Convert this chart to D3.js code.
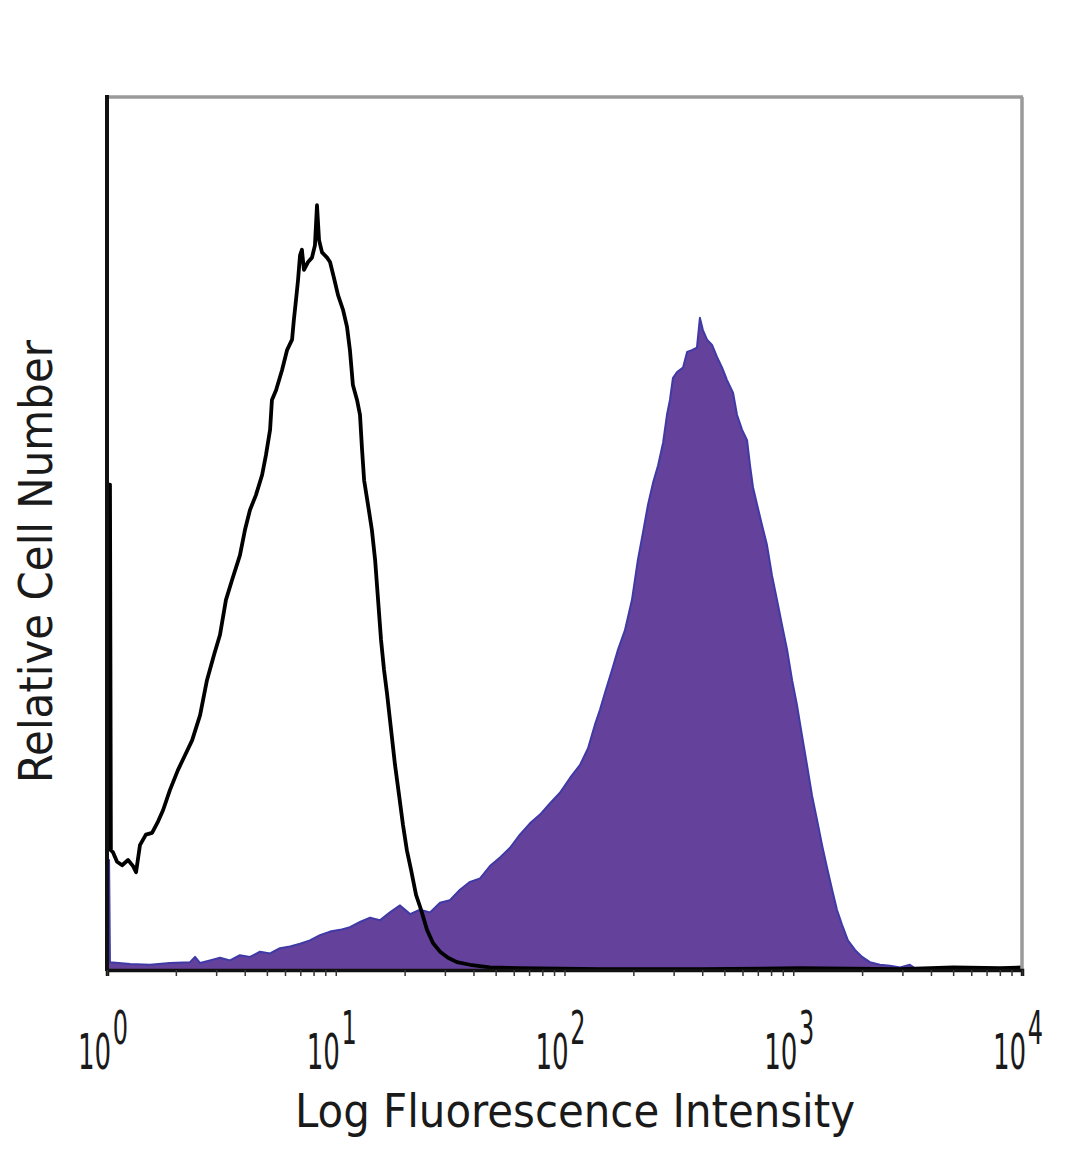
<!DOCTYPE html>
<html>
<head>
<meta charset="utf-8">
<script src="https://cdn.jsdelivr.net/npm/d3@7/dist/d3.min.js"></script>
<style>
  html, body { margin: 0; padding: 0; background: #fff; }
  svg { display: block; }
  text { font-family: "DejaVu Sans Condensed", "DejaVu Sans", sans-serif; font-stretch: condensed; fill: #1a1a1a; }
</style>
</head>
<body>
<svg id="chart" width="1080" height="1169"></svg>
<script>
// ---- Data (log10 fluorescence intensity, relative cell number %) ----
const isotypeLog = [0, 0, 0.013, 0.017, 0.026, 0.044, 0.066, 0.092, 0.114, 0.127, 0.144, 0.170, 0.197, 0.223, 0.245, 0.275, 0.310, 0.341, 0.372, 0.407, 0.437, 0.468, 0.494, 0.520, 0.547, 0.581, 0.603, 0.625, 0.651, 0.678, 0.695, 0.713, 0.721, 0.739, 0.765, 0.787, 0.809, 0.817, 0.826, 0.835, 0.844, 0.852, 0.861, 0.879, 0.896, 0.909, 0.918, 0.927, 0.940, 0.962, 0.975, 0.992, 1.010, 1.032, 1.049, 1.062, 1.075, 1.093, 1.106, 1.115, 1.124, 1.141, 1.158, 1.172, 1.185, 1.198, 1.211, 1.224, 1.242, 1.259, 1.277, 1.294, 1.311, 1.329, 1.351, 1.373, 1.399, 1.425, 1.456, 1.491, 1.530, 1.587, 1.674, 1.805, 2.155, 2.592, 3.029, 3.467, 3.700, 3.904, 4.0];
const isotypeCount = [0, 55.6, 55.6, 13.7, 13.5, 12.4, 12.0, 12.6, 11.9, 11.2, 14.3, 15.5, 15.7, 17.0, 18.3, 20.6, 22.9, 24.6, 26.3, 29.2, 33.2, 36.1, 38.4, 42.4, 44.7, 47.5, 50.4, 52.7, 54.4, 56.7, 59.0, 61.9, 65.3, 66.4, 68.7, 71.0, 72.2, 74.5, 76.7, 79.0, 81.9, 82.5, 80.2, 81.1, 81.6, 83.0, 87.6, 83.6, 82.2, 81.6, 81.1, 79.3, 77.3, 75.6, 73.7, 71.0, 67.0, 65.3, 63.6, 59.6, 56.1, 53.3, 50.4, 47.0, 42.4, 37.8, 34.4, 31.7, 27.5, 23.5, 20.0, 16.6, 13.7, 11.5, 8.6, 6.9, 4.6, 3.1, 2.1, 1.4, 0.9, 0.6, 0.3, 0.2, 0.1, 0.1, 0.2, 0.1, 0.3, 0.2, 0.3];

const stainedLog = [0, 0, 0.009, 0.013, 0.101, 0.188, 0.275, 0.363, 0.385, 0.407, 0.450, 0.494, 0.538, 0.581, 0.625, 0.669, 0.713, 0.756, 0.800, 0.844, 0.887, 0.931, 0.975, 1.019, 1.062, 1.106, 1.150, 1.193, 1.237, 1.281, 1.325, 1.368, 1.412, 1.456, 1.499, 1.543, 1.587, 1.631, 1.674, 1.718, 1.762, 1.805, 1.849, 1.893, 1.937, 1.980, 2.024, 2.068, 2.103, 2.133, 2.155, 2.181, 2.208, 2.234, 2.264, 2.295, 2.321, 2.343, 2.365, 2.387, 2.409, 2.431, 2.448, 2.461, 2.474, 2.492, 2.518, 2.536, 2.557, 2.579, 2.592, 2.605, 2.623, 2.645, 2.667, 2.689, 2.710, 2.737, 2.754, 2.776, 2.798, 2.811, 2.824, 2.842, 2.863, 2.885, 2.907, 2.929, 2.951, 2.973, 2.995, 3.016, 3.038, 3.060, 3.082, 3.104, 3.126, 3.148, 3.170, 3.191, 3.213, 3.239, 3.270, 3.301, 3.335, 3.379, 3.423, 3.467, 3.510, 3.532, 3.598, 4.0, 4.0];
const stainedCount = [0, 12.6, 12.6, 0.9, 0.7, 0.6, 0.8, 0.9, 1.5, 0.8, 1.1, 1.4, 1.1, 1.7, 1.5, 2.1, 1.9, 2.5, 2.7, 3.0, 3.4, 4.0, 4.4, 4.6, 4.9, 5.5, 6.0, 5.7, 6.6, 7.4, 6.4, 6.9, 6.6, 7.7, 8.0, 9.2, 10.1, 10.5, 11.9, 12.9, 14.0, 15.5, 16.8, 17.8, 19.1, 20.3, 22.0, 23.5, 25.4, 28.1, 29.8, 32.1, 34.4, 36.7, 38.9, 42.4, 47.0, 50.1, 53.3, 55.8, 57.8, 60.4, 63.6, 65.3, 67.8, 68.5, 69.0, 70.8, 71.0, 71.3, 74.7, 73.3, 72.2, 71.6, 70.2, 69.0, 67.6, 66.1, 63.6, 61.9, 60.7, 57.8, 55.3, 53.3, 51.0, 48.7, 45.2, 42.4, 39.5, 36.7, 33.2, 30.4, 26.9, 23.5, 20.0, 17.2, 14.3, 11.7, 9.2, 6.9, 5.2, 3.4, 2.3, 1.5, 0.9, 0.6, 0.5, 0.3, 0.6, 0.2, 0.1, 0.1, 0];

const decadeTicks = [1, 10, 100, 1000, 10000];
const tickExponents = ["0", "1", "2", "3", "4"];
const xTitle = "Log Fluorescence Intensity";
const yTitle = "Relative Cell Number";

// ---- Layout ----
const svg = d3.select("#chart");
const mLeft = 107, mRight = 1022, mTop = 97, mBottom = 970;

const x = d3.scaleLog().domain([1, 10000]).range([mLeft, mRight]);
const y = d3.scaleLinear().domain([0, 100]).range([mBottom, mTop]);

const stained = stainedLog.map((d, i) => ({ v: Math.pow(10, d), c: stainedCount[i] }));
const isotype = isotypeLog.map((d, i) => ({ v: Math.pow(10, d), c: isotypeCount[i] }));

// filled histogram
const area = d3.area().x(d => x(d.v)).y0(y(0)).y1(d => y(d.c));
svg.append("path")
  .datum(stained)
  .attr("d", area)
  .attr("fill", "#64419b")
  .attr("stroke", "#3f3aa6")
  .attr("stroke-width", 2)
  .attr("stroke-linejoin", "round");

// isotype outline
const line = d3.line().x(d => x(d.v)).y(d => y(d.c));
svg.append("path")
  .datum(isotype)
  .attr("d", line)
  .attr("fill", "none")
  .attr("stroke", "#000")
  .attr("stroke-width", 3.8)
  .attr("stroke-linejoin", "round");

// frame: top/right grey
svg.append("line").attr("x1", mLeft).attr("x2", mRight + 1).attr("y1", mTop).attr("y2", mTop)
  .attr("stroke", "#9a9a9a").attr("stroke-width", 3.5);
svg.append("line").attr("x1", mRight).attr("x2", mRight).attr("y1", mTop).attr("y2", mBottom)
  .attr("stroke", "#9a9a9a").attr("stroke-width", 3.5);
// left axis black
svg.append("line").attr("x1", mLeft).attr("x2", mLeft).attr("y1", mTop - 2).attr("y2", mBottom + 1)
  .attr("stroke", "#111").attr("stroke-width", 4);

// bottom axis with minor ticks
const minorTicks = x.ticks(40).filter(t => t >= 1 && t <= 10000);
const xAxis = d3.axisBottom(x).tickValues(minorTicks).tickSize(6).tickFormat("");
const gx = svg.append("g").attr("transform", `translate(0,${mBottom})`).call(xAxis);
gx.select(".domain").attr("stroke", "#111").attr("stroke-width", 3.5);
gx.selectAll(".tick line").attr("stroke", "#333").attr("stroke-width", 1.5);

// decade labels 10^n (single text element each, condensed horizontally)
decadeTicks.forEach((t, i) => {
  const cx = x(t);
  const txt = svg.append("text")
    .attr("transform", `translate(${cx - 4},1069) scale(0.58,1)`)
    .attr("text-anchor", "middle")
    .attr("font-size", 50);
  txt.append("tspan").text("10");
  txt.append("tspan")
    .attr("font-size", 46)
    .attr("dy", -25)
    .attr("dx", 3)
    .text(tickExponents[i]);
});

// axis titles
svg.append("text")
  .attr("x", 295).attr("y", 1127)
  .attr("font-size", 47)
  .attr("textLength", 560).attr("lengthAdjust", "spacingAndGlyphs")
  .text(xTitle);

svg.append("text")
  .attr("transform", "translate(52,783) rotate(-90)")
  .attr("x", 0).attr("y", 0)
  .attr("font-size", 46)
  .attr("textLength", 443).attr("lengthAdjust", "spacingAndGlyphs")
  .text(yTitle);
</script>
</body>
</html>
